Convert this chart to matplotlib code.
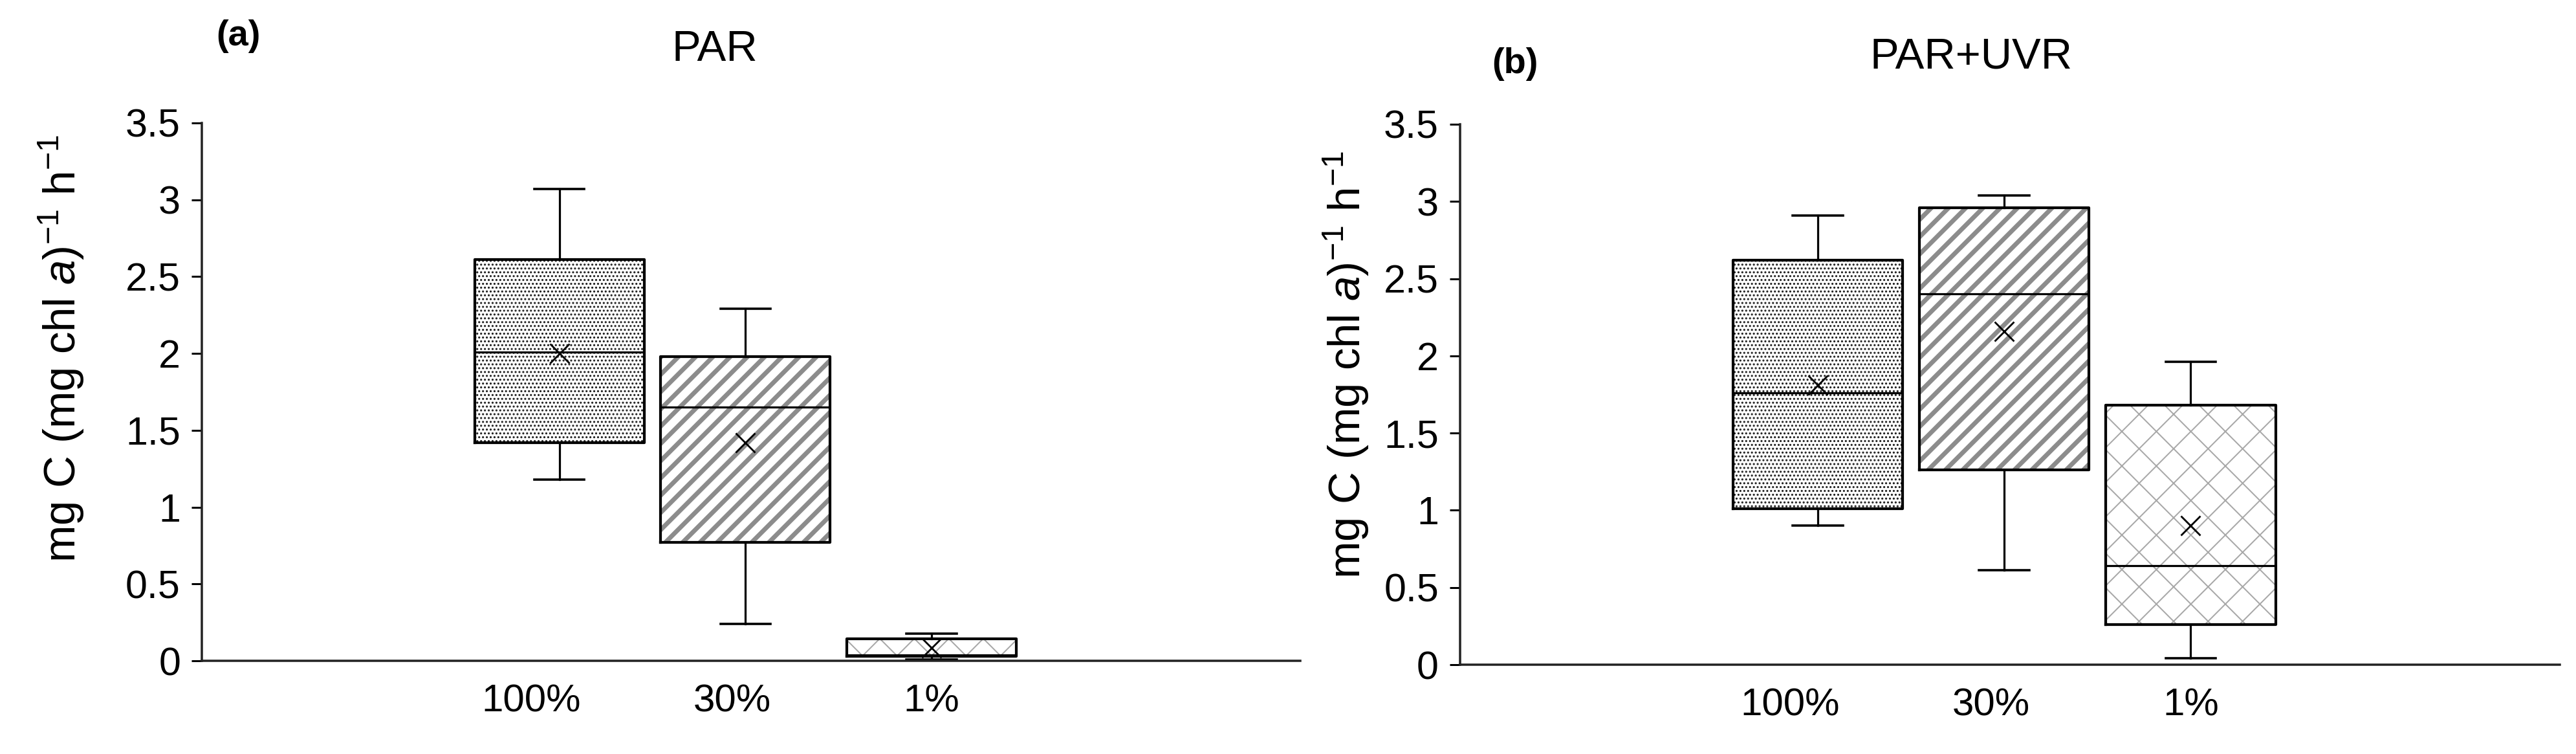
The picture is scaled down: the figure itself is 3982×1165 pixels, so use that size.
import matplotlib
matplotlib.use("Agg")
import matplotlib.pyplot as plt

plt.rcParams['font.family'] = ['Liberation Sans', 'DejaVu Sans']
plt.rcParams['mathtext.fontset'] = 'custom'
plt.rcParams['mathtext.rm'] = 'Liberation Sans'
plt.rcParams['mathtext.it'] = 'Liberation Sans:italic'

# data: whisker low, Q1, median, Q3, whisker high, mean
categories = ['100%', '30%', '1%']
par_low = [1.18, 0.24, 0.01]
par_q1 = [1.42, 0.77, 0.03]
par_med = [2.01, 1.65, 0.04]
par_q3 = [2.61, 1.98, 0.145]
par_high = [3.07, 2.29, 0.175]
par_mean = [2.00, 1.42, 0.085]

uvr_low = [0.90, 0.61, 0.04]
uvr_q1 = [1.01, 1.26, 0.26]
uvr_med = [1.76, 2.40, 0.64]
uvr_q3 = [2.62, 2.96, 1.68]
uvr_high = [2.91, 3.04, 1.96]
uvr_mean = [1.81, 2.16, 0.90]

yticks = [0, 0.5, 1, 1.5, 2, 2.5, 3, 3.5]
ytick_labels = ['0', '0.5', '1', '1.5', '2', '2.5', '3', '3.5']

# dpi chosen so the hatch cell gives the right stripe / diamond spacing
DPI = 320
W, H = 3982, 1165


def px(n):
    # pixels -> points
    return n * 72.0 / DPI


fig = plt.figure(figsize=(W / DPI, H / DPI), dpi=DPI)

hatches = ['.........', '////', 'xx']
hatch_cols = ['#1e1e1e', '#8c8c8c', '#a8a8a8']
hatch_lw = [px(2.0), px(7), px(2)]
positions = [0, 1, 2]
label_pos = [-0.15, 0.93, 2.0]


def panel(rect, low, q1, med, q3, high, mean):
    ax = fig.add_axes(rect)
    stats = []
    for i in range(3):
        stats.append(dict(whislo=low[i], q1=q1[i], med=med[i], q3=q3[i],
                          whishi=high[i], mean=mean[i], fliers=[]))
    # hatched fills under the box outlines
    for i in range(3):
        with plt.rc_context({'hatch.linewidth': hatch_lw[i]}):
            ax.bar(positions[i], q3[i] - q1[i], bottom=q1[i], width=0.91,
                   color='white', edgecolor=hatch_cols[i], linewidth=0,
                   hatch=hatches[i], zorder=1)
    ax.bxp(stats, positions=positions, widths=0.91, capwidths=0.27,
           showmeans=True, patch_artist=False,
           boxprops=dict(color='black', linewidth=px(4.2)),
           whiskerprops=dict(color='black', linewidth=px(3.2)),
           capprops=dict(color='black', linewidth=px(3.6)),
           medianprops=dict(color='black', linewidth=px(3.2)),
           meanprops=dict(marker='x', markeredgecolor='black',
                          markersize=px(30), markeredgewidth=px(2.8)),
           zorder=2)
    ax.set_xlim(-1.92, 3.98)
    ax.set_ylim(0, 3.5)
    ax.set_yticks(yticks)
    ax.set_yticklabels(ytick_labels)
    ax.set_xticks(label_pos)
    ax.set_xticklabels(categories)
    ax.tick_params(axis='x', length=0, pad=px(36), labelsize=px(60))
    ax.tick_params(axis='y', direction='out', length=px(16), width=px(3),
                   pad=px(17), labelsize=px(61))
    for s in ['top', 'right']:
        ax.spines[s].set_visible(False)
    for s in ['left', 'bottom']:
        ax.spines[s].set_linewidth(px(3.5))
        ax.spines[s].set_color('#222222')
    return ax


def px_rect(left, right, top, bottom):
    return [left / W, 1 - bottom / H, (right - left) / W, (bottom - top) / H]


ylab = r'mg C (mg chl $\it{a}$)$^{\mathregular{-1}}$ h$^{\mathregular{-1}}$'

ax1 = panel(px_rect(312, 2010, 190, 1021), par_low, par_q1, par_med, par_q3, par_high, par_mean)
ax2 = panel(px_rect(2257, 3957, 192, 1027), uvr_low, uvr_q1, uvr_med, uvr_q3, uvr_high, uvr_mean)

fig.text(95 / W, 1 - 538 / H, ylab, rotation=90, fontsize=px(69), ha='center', va='center')
fig.text(2081 / W, 1 - 563 / H, ylab, rotation=90, fontsize=px(69), ha='center', va='center')

fig.text(368 / W, 1 - 56 / H, '(a)', fontsize=px(56), fontweight='bold', ha='center', va='center')
fig.text(1105 / W, 1 - 77 / H, 'PAR', fontsize=px(67), ha='center', va='center')
fig.text(2342 / W, 1 - 99 / H, '(b)', fontsize=px(56), fontweight='bold', ha='center', va='center')
fig.text(3047 / W, 1 - 89 / H, 'PAR+UVR', fontsize=px(67), ha='center', va='center')

fig.savefig('out.png', dpi=DPI, facecolor='white')
